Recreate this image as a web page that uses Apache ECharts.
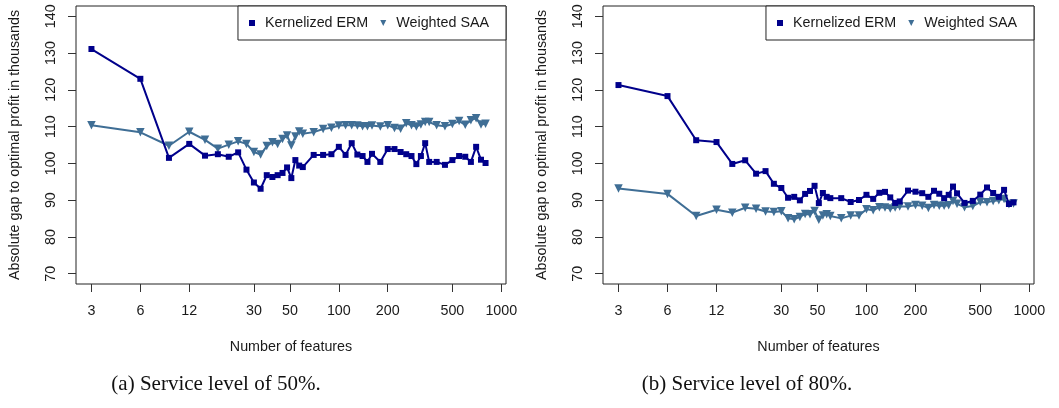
<!DOCTYPE html>
<html>
<head>
<meta charset="utf-8">
<script src="https://cdn.jsdelivr.net/npm/echarts@6/dist/echarts.min.js"></script>
<style>
html,body{margin:0;padding:0;background:#fff;}
#chart{width:1059px;height:408px;}
</style>
</head>
<body>
<div id="chart"></div>
<script>
// ---- data ----
const features = [3,6,9,12,15,18,21,24,27,30,33,36,39,42,45,48,51,54,57,60,70,80,90,100,110,120,130,140,150,160,180,200,220,240,260,280,300,320,340,360,400,450,500,550,600,650,700,750,800];
const ermA = [131.1,123.0,101.5,105.3,102.1,102.5,101.8,103.0,98.3,94.8,93.1,96.8,96.3,96.8,97.4,98.9,96.0,100.9,99.4,99.0,102.3,102.3,102.5,104.5,102.3,105.5,102.4,102.0,100.4,102.6,100.4,103.9,103.9,103.1,102.5,102.0,99.8,102.0,105.5,100.4,100.4,99.6,100.9,102.0,101.8,100.4,104.5,101.0,100.1];
const saaA = [110.35,108.45,104.8,108.6,106.4,104.0,105.1,106.0,105.3,103.1,102.4,104.7,105.75,105.25,106.6,107.6,104.85,107.3,108.7,108.05,108.5,109.35,109.7,110.3,110.4,110.4,110.3,110.1,110.1,110.3,110.0,110.4,109.6,109.4,110.9,110.35,110.0,110.6,111.25,111.25,110.35,110.1,110.7,111.5,110.5,111.7,112.3,110.6,110.8];
const ermB = [121.3,118.3,106.3,105.8,99.85,100.85,97.2,97.9,94.45,93.3,90.65,90.9,89.95,91.7,92.5,93.9,89.2,91.95,90.9,90.55,90.55,89.5,90.05,91.45,90.35,92.0,92.25,90.75,89.25,89.65,92.6,92.3,91.9,90.9,92.55,91.75,90.55,91.45,93.7,91.85,89.25,89.8,91.5,93.45,91.95,90.9,92.8,88.95,89.4];
const saaB = [93.2,91.7,85.7,87.4,86.6,87.95,87.65,86.9,86.8,87.0,85.1,84.8,85.45,86.25,86.2,87.05,84.65,85.8,86.2,85.7,85.05,85.8,85.8,87.5,87.25,88.1,88.0,87.7,88.0,88.3,88.3,88.7,88.5,87.9,88.7,88.5,88.5,88.6,89.8,89.0,88.1,88.4,89.5,89.4,89.8,90.0,90.3,88.9,89.1];
const xTicks = [3,6,12,30,50,100,200,500,1000];
const yTicks = [70,80,90,100,110,120,130,140];
const seriesNames = ['Kernelized ERM','Weighted SAA'];
const xTitle = 'Number of features';
const yTitle = 'Absolute gap to optimal profit in thousands';
const captions = ['(a) Service level of 50%.','(b) Service level of 80%.'];

// ---- styles ----
const ERM_COLOR = '#00008B';
const SAA_COLOR = '#3f6e95';
const TXT = '#1a1a1a';
const FONT = 'Liberation Sans';
const FS = 14.3;

const pairs = (ys) => features.map((x, i) => [x, ys[i]]);

const grids = [
  {left: 76, top: 6, width: 430, height: 278},
  {left: 603, top: 6, width: 431, height: 278}
];

function xAxis(gi) {
  return {
    type: 'log', logBase: 10, gridIndex: gi,
    min: 2.41, max: 1069,
    name: xTitle, nameLocation: 'middle', nameGap: 56,
    nameTextStyle: {fontFamily: FONT, fontSize: FS, color: TXT},
    axisLine: {show: false},
    axisTick: {show: true, inside: false, length: 8, customValues: xTicks, lineStyle: {color: '#333', width: 1}},
    axisLabel: {show: true, margin: 20, customValues: xTicks, fontFamily: FONT, fontSize: FS, color: TXT,
      formatter: (v) => String(Math.round(v))},
    splitLine: {show: false},
    minorTick: {show: false}
  };
}
function yAxis(gi) {
  return {
    type: 'value', gridIndex: gi,
    min: 67.2, max: 142.8,
    name: yTitle, nameLocation: 'middle', nameGap: 54, nameRotate: 90,
    nameTextStyle: {fontFamily: FONT, fontSize: FS, color: TXT},
    axisLine: {show: false},
    axisTick: {show: true, length: 8, customValues: yTicks, lineStyle: {color: '#333', width: 1}},
    axisLabel: {show: true, rotate: 90, margin: 18, customValues: yTicks, fontFamily: FONT, fontSize: FS, color: TXT},
    splitLine: {show: false}
  };
}
function legend(gi, rightPx) {
  return {
    show: true, right: rightPx, top: 6, orient: 'horizontal',
    data: seriesNames,
    backgroundColor: '#fff',
    borderColor: '#222', borderWidth: 1, borderRadius: 0,
    padding: [10, 17, 10, 5],
    itemWidth: 16, itemHeight: 7.5, itemGap: 6,
    lineStyle: {opacity: 0},
    textStyle: {fontFamily: FONT, fontSize: FS, color: TXT},
    selectedMode: false
  };
}
function makeSeries(gi, erm, saa) {
  return [
    {
      name: seriesNames[1], type: 'line', xAxisIndex: gi, yAxisIndex: gi,
      data: pairs(saa), symbol: 'triangle', symbolRotate: 180, symbolSize: 8.5,
      lineStyle: {color: SAA_COLOR, width: 2}, itemStyle: {color: SAA_COLOR},
      z: 2
    },
    {
      name: seriesNames[0], type: 'line', xAxisIndex: gi, yAxisIndex: gi,
      data: pairs(erm), symbol: 'rect', symbolSize: 6,
      lineStyle: {color: ERM_COLOR, width: 2}, itemStyle: {color: ERM_COLOR},
      z: 3
    }
  ];
}

const capStyle = {fontFamily: 'Liberation Serif', fontSize: 21, fontWeight: 'normal', color: '#111'};
const chart = echarts.init(document.getElementById('chart'), null, {renderer: 'canvas'});
chart.setOption({
  animation: false,
  backgroundColor: '#fff',
  title: [
    {text: captions[0], left: 211, top: 369, textAlign: 'center', textStyle: capStyle},
    {text: captions[1], left: 742, top: 369, textAlign: 'center', textStyle: capStyle}
  ],
  grid: grids.map(g => Object.assign({show: true, borderColor: '#222', borderWidth: 1, backgroundColor: 'transparent'}, g)),
  xAxis: [xAxis(0), xAxis(1)],
  yAxis: [yAxis(0), yAxis(1)],
  legend: [legend(0, 1059 - 506), legend(1, 1059 - 1034)],
  series: [...makeSeries(0, ermA, saaA), ...makeSeries(1, ermB, saaB)]
});
</script>
</body>
</html>
